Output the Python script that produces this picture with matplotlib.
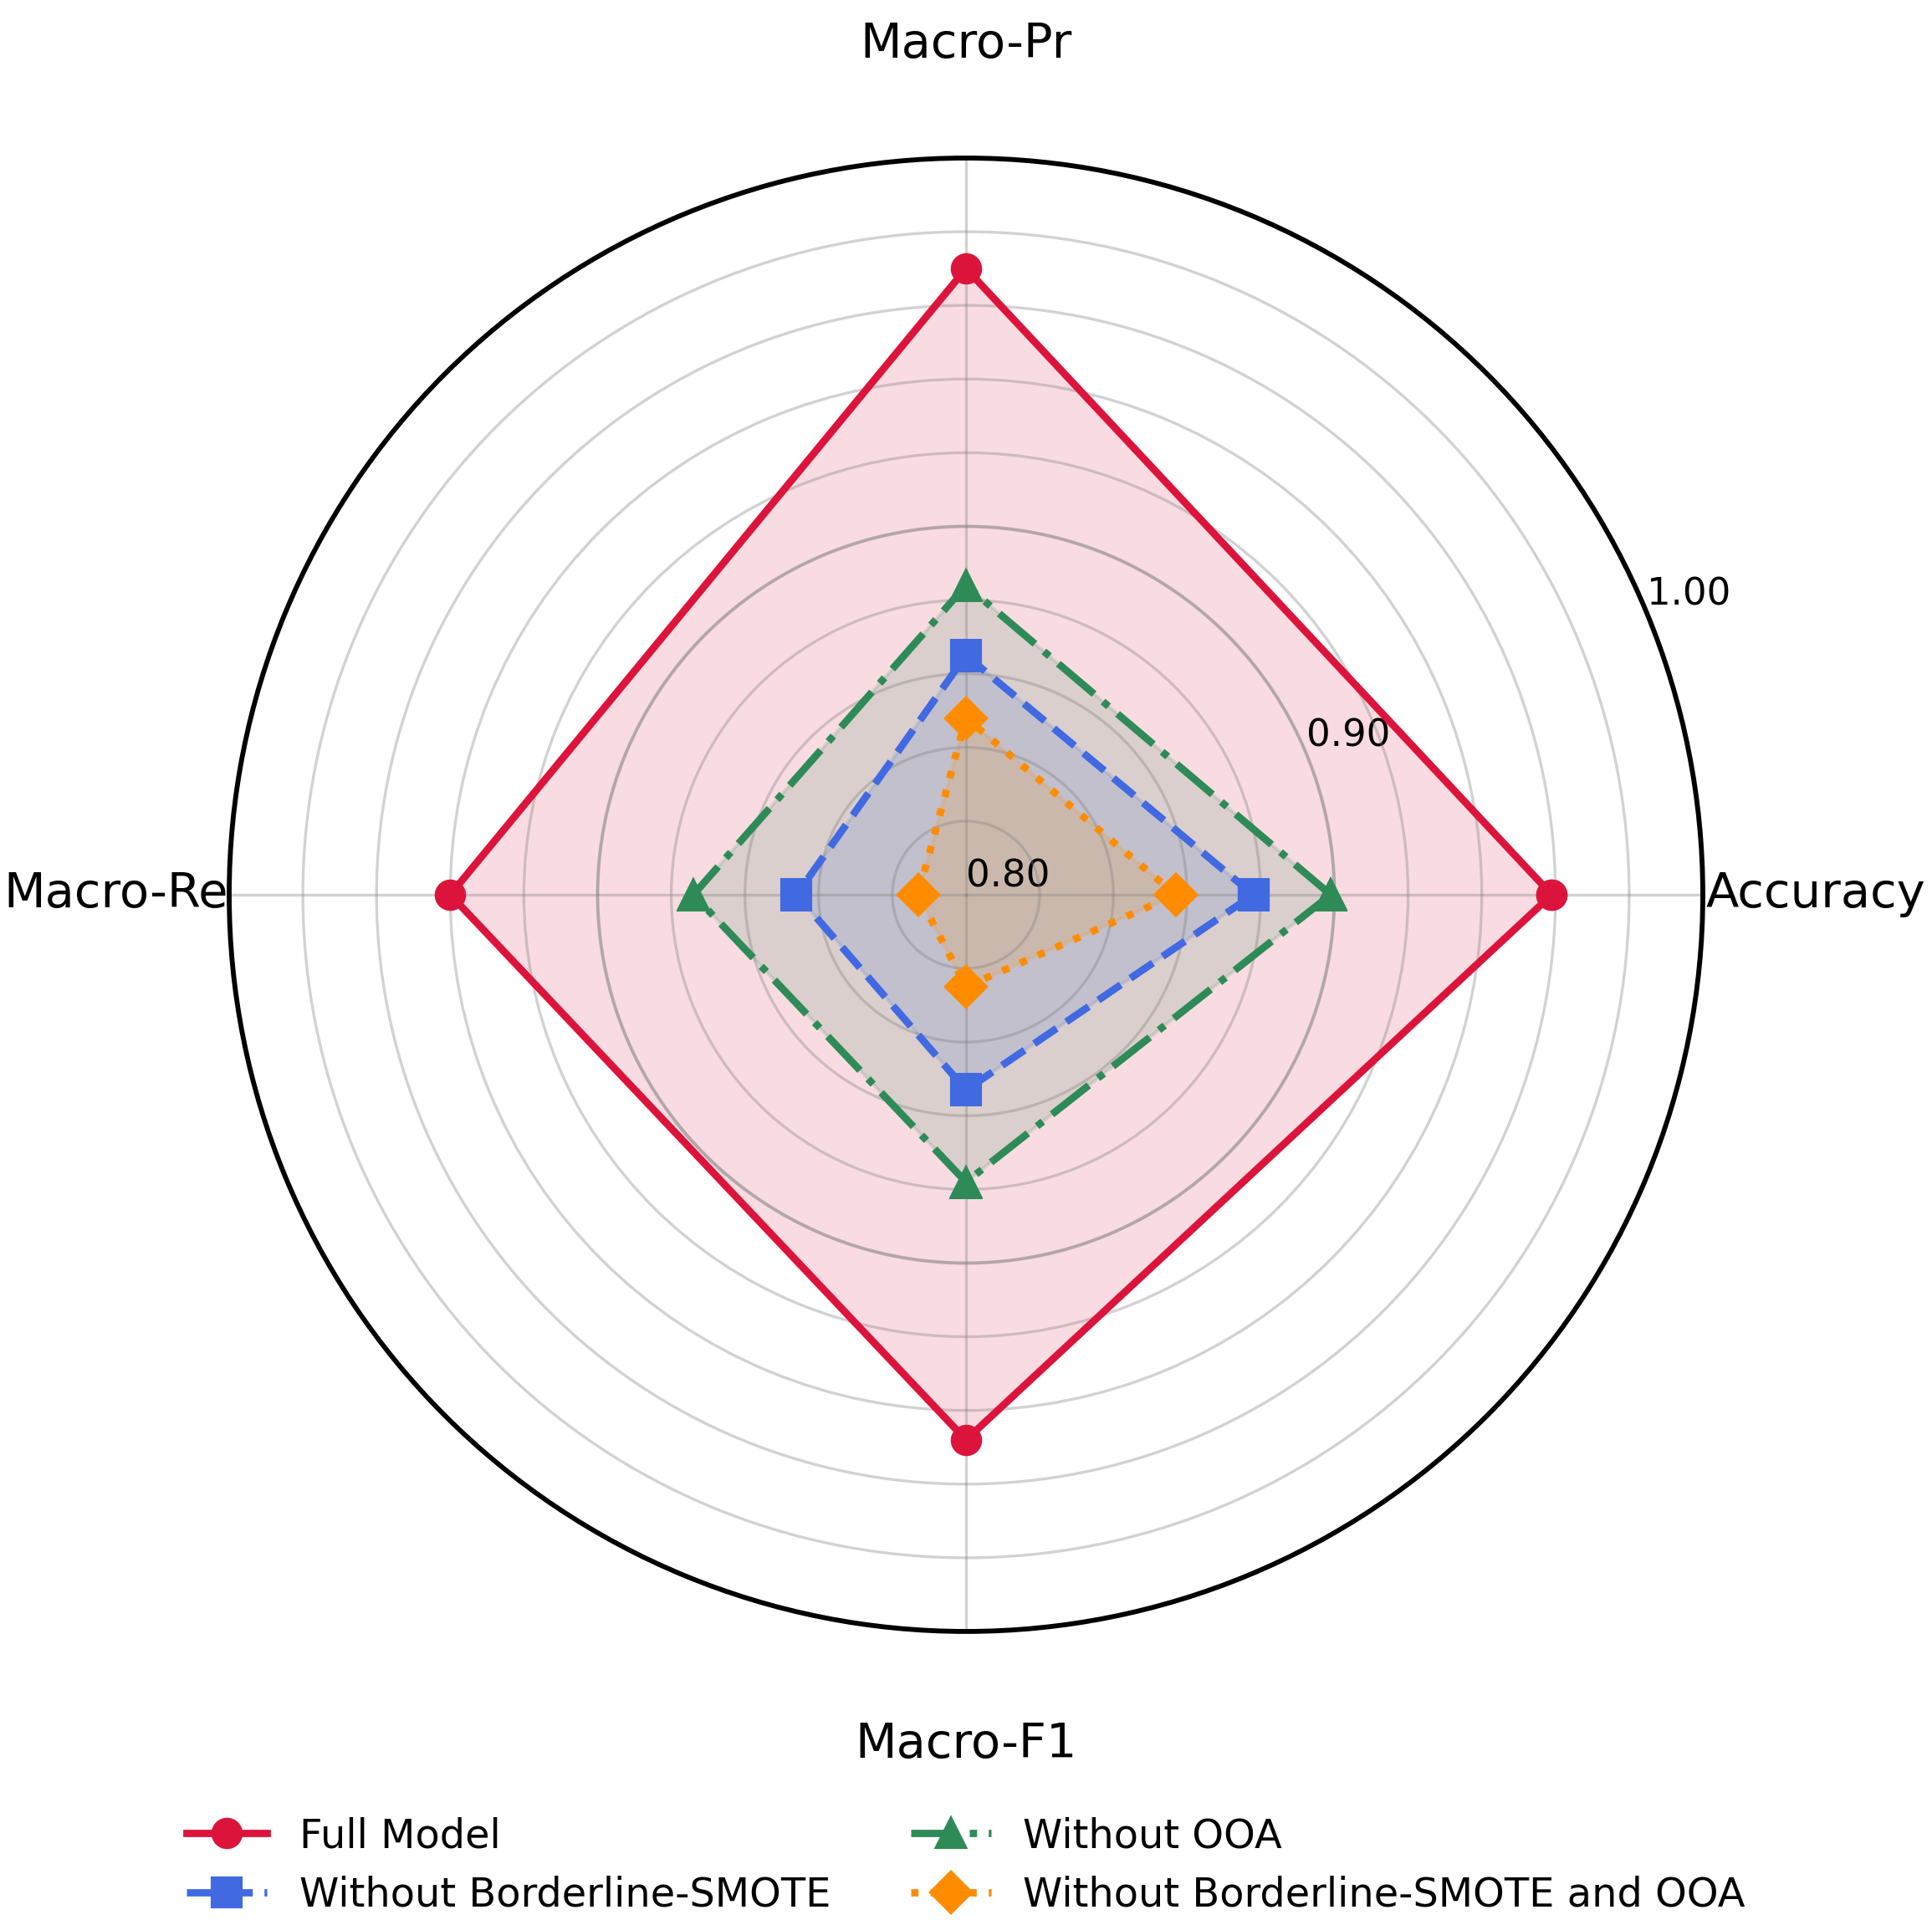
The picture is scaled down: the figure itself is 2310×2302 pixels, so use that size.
import numpy as np
import matplotlib
matplotlib.use("Agg")
import matplotlib.pyplot as plt

# metrics on the radar axes (counter-clockwise from the right)
categories = ["Accuracy", "Macro-Pr", "Macro-Re", "Macro-F1"]

full_model = [0.959, 0.970, 0.940, 0.948]
no_bsmote = [0.878, 0.865, 0.846, 0.853]
no_ooa = [0.899, 0.884, 0.874, 0.878]
no_both = [0.857, 0.848, 0.813, 0.825]

series_names = ["Full Model", "Without Borderline-SMOTE",
                "Without OOA", "Without Borderline-SMOTE and OOA"]

r_ticks = [0.80, 0.82, 0.84, 0.86, 0.88, 0.90, 0.92, 0.94, 0.96, 0.98, 1.00]
r_labels = ["0.80", "", "", "", "", "0.90", "", "", "", "", "1.00"]

colors = ["crimson", "royalblue", "seagreen", "darkorange"]
styles = ["-", "--", "-.", ":"]
markers = ["o", "s", "^", "D"]

angles = np.linspace(0, 2 * np.pi, len(categories), endpoint=False)
angles_c = np.concatenate([angles, angles[:1]])

fig = plt.figure(figsize=(2310 / 300, 2302 / 300), dpi=300)
ax = fig.add_axes([0.1186, 0.1525, 0.7628, 0.7654], polar=True)

for vals, name, c, ls, m in zip([full_model, no_bsmote, no_ooa, no_both],
                                series_names, colors, styles, markers):
    v = np.concatenate([vals, vals[:1]])
    ax.fill(angles_c, v, color=c, alpha=0.15)
    ax.plot(angles_c, v, color=c, linestyle=ls, marker=m, linewidth=2.1,
            markersize=8, label=name)

# darker ring at 0.90
th = np.linspace(0, 2 * np.pi, 300)
ax.plot(th, np.full_like(th, 0.90), color="gray", alpha=0.35, linewidth=1.0, zorder=1.5)

ax.set_ylim(0.80, 1.00)
ax.set_yticks(r_ticks)
ax.set_yticklabels(r_labels, fontsize=10.8)
ax.set_xticks(angles)
ax.set_xticklabels(categories, fontsize=13.8)
ax.tick_params(axis="x", pad=22)
ax.grid(color="gray", alpha=0.35, linewidth=0.8)
ax.spines["polar"].set_linewidth(1.4)
ax.spines["polar"].set_color("black")

ax.legend(loc="upper center", bbox_to_anchor=(0.5, -0.101), ncol=2,
          frameon=False, fontsize=11.5)

fig.savefig("out.png", dpi=300)
